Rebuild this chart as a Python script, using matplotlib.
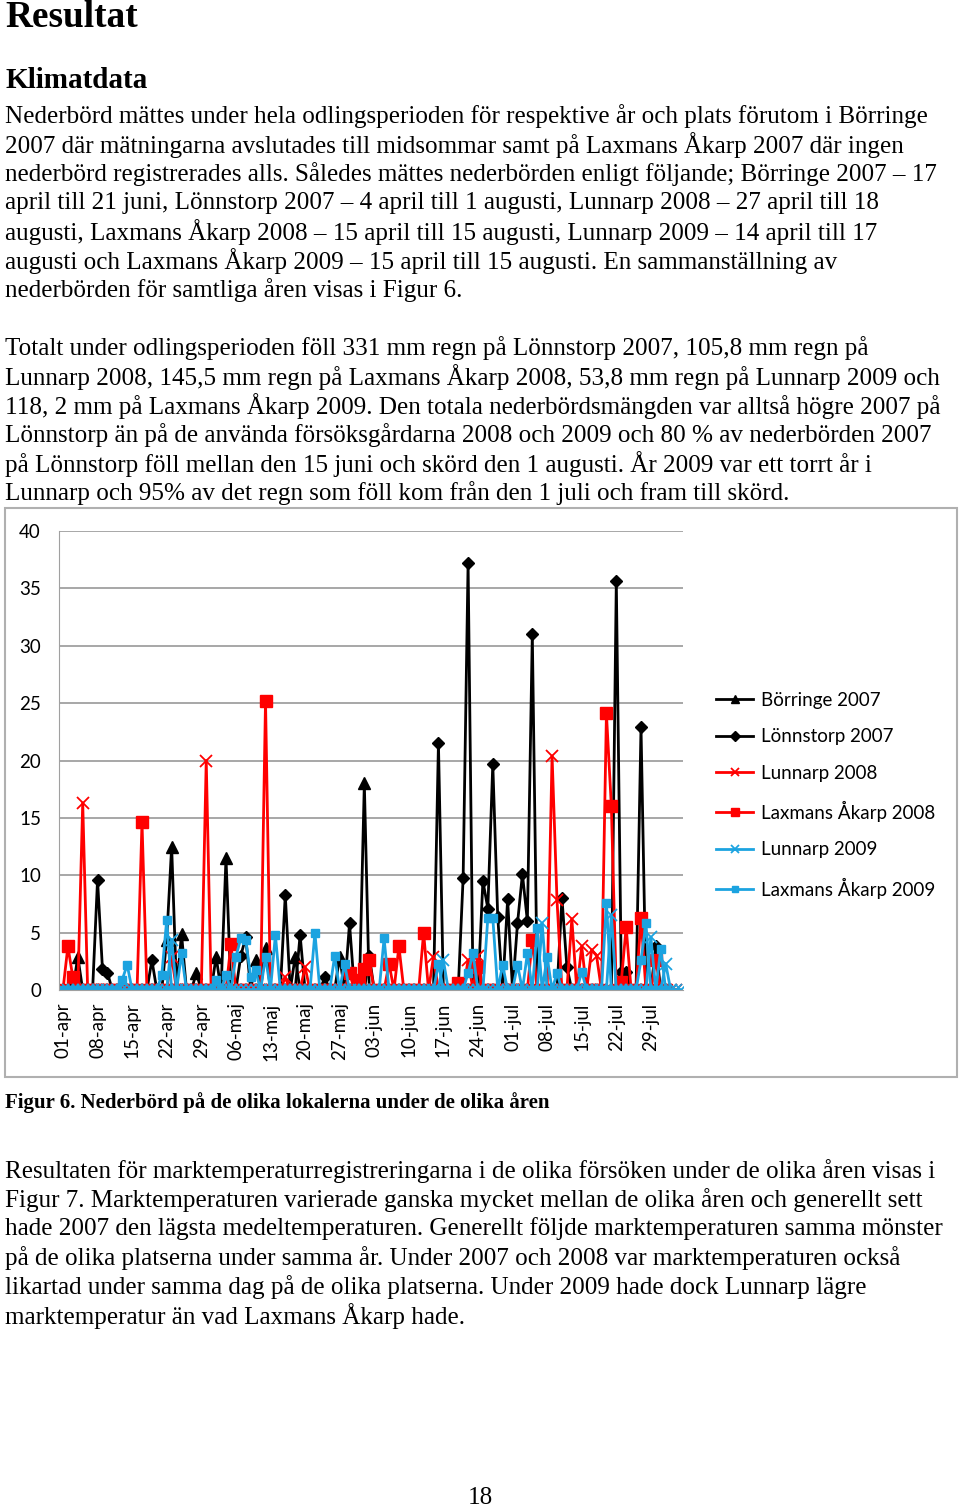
import numpy as np
import matplotlib
matplotlib.use("Agg")
import matplotlib.pyplot as plt
from matplotlib.patches import Rectangle

# ---- chart data: day index from 01-apr, nonzero daily rainfall (mm) ----
tick_days = [0, 7, 14, 21, 28, 35, 42, 49, 56, 63, 70, 77, 84, 91, 98, 105, 112, 119]
tick_labels = ["01-apr", "08-apr", "15-apr", "22-apr", "29-apr", "06-maj", "13-maj",
               "20-maj", "27-maj", "03-jun", "10-jun", "17-jun", "24-jun", "01-jul",
               "08-jul", "15-jul", "22-jul", "29-jul"]

borringe07_days = [3, 21, 22, 24, 27, 31, 33, 39, 41, 47, 56, 61]
borringe07_vals = [2.9, 4.4, 12.5, 4.9, 1.5, 2.9, 11.5, 2.6, 3.7, 2.9, 2.9, 18.0]

lonnstorp07_days = [2, 7, 8, 9, 18, 36, 37, 45, 48, 53, 58, 62, 76, 81, 82, 85, 86, 87,
                    88, 90, 92, 93, 94, 95, 101, 102, 112, 113, 114, 117, 120]
lonnstorp07_vals = [0.8, 9.6, 1.8, 1.5, 2.6, 3.0, 4.6, 8.3, 4.8, 1.1, 5.8, 3.0, 21.5, 9.8,
                    37.2, 9.5, 7.1, 19.7, 6.4, 7.9, 5.8, 10.1, 6.0, 31.0, 8.0, 2.0, 35.6,
                    1.6, 1.6, 22.9, 3.8]

lunnarp08_days = [4, 22, 29, 45, 49, 75, 82, 84, 99, 100, 103, 105, 107, 108]
lunnarp08_vals = [16.3, 2.9, 20.0, 1.1, 2.0, 2.9, 2.6, 3.0, 20.4, 7.8, 6.2, 3.8, 3.5, 3.0]

laxmans08_days = [1, 2, 16, 34, 41, 58, 60, 61, 62, 66, 68, 73, 80, 84, 95, 110, 111,
                  113, 114, 117, 120]
laxmans08_vals = [3.8, 1.1, 14.6, 4.0, 25.2, 1.5, 0.9, 1.8, 2.6, 2.3, 3.8, 5.0, 0.6, 2.0,
                  4.4, 24.1, 16.0, 0.7, 5.5, 6.3, 2.6]

lunnarp09_days = [22, 77, 97, 111, 119, 122]
lunnarp09_vals = [4.4, 2.6, 5.8, 6.5, 4.6, 2.3]

laxmans09_days = [12, 13, 20, 21, 24, 31, 33, 35, 36, 37, 38, 39, 41, 43, 51, 55, 57, 65,
                  76, 82, 83, 86, 87, 89, 92, 94, 96, 98, 100, 105, 110, 117, 118, 121]
laxmans09_vals = [0.9, 2.2, 1.3, 6.1, 3.2, 0.9, 1.3, 2.9, 4.5, 4.4, 1.1, 1.7, 2.9, 4.8,
                  5.0, 3.0, 2.3, 4.5, 2.3, 1.5, 3.2, 6.3, 6.3, 2.2, 2.2, 3.2, 5.4, 2.9,
                  1.5, 1.6, 7.6, 2.6, 5.8, 3.6]

series = [
    ("Börringe 2007", borringe07_days, borringe07_vals, 81, "black", "^", 8),
    ("Lönnstorp 2007", lonnstorp07_days, lonnstorp07_vals, 122, "black", "D", 6),
    ("Lunnarp 2008", lunnarp08_days, lunnarp08_vals, 124, "#ff0000", "x", 8),
    ("Laxmans Åkarp 2008", laxmans08_days, laxmans08_vals, 122, "#ff0000", "s", 8),
    ("Lunnarp 2009", lunnarp09_days, lunnarp09_vals, 125, "#1ca3e0", "x", 8),
    ("Laxmans Åkarp 2009", laxmans09_days, laxmans09_vals, 122, "#1ca3e0", "s", 6),
]

# ---- page text ----
para1 = [
    "Nederbörd mättes under hela odlingsperioden för respektive år och plats förutom i Börringe",
    "2007 där mätningarna avslutades till midsommar samt på Laxmans Åkarp 2007 där ingen",
    "nederbörd registrerades alls. Således mättes nederbörden enligt följande; Börringe 2007 – 17",
    "april till 21 juni, Lönnstorp 2007 – 4 april till 1 augusti, Lunnarp 2008 – 27 april till 18",
    "augusti, Laxmans Åkarp 2008 – 15 april till 15 augusti, Lunnarp 2009 – 14 april till 17",
    "augusti och Laxmans Åkarp 2009 – 15 april till 15 augusti. En sammanställning av",
    "nederbörden för samtliga åren visas i Figur 6.",
]
para2 = [
    "Totalt under odlingsperioden föll 331 mm regn på Lönnstorp 2007, 105,8 mm regn på",
    "Lunnarp 2008, 145,5 mm regn på Laxmans Åkarp 2008, 53,8 mm regn på Lunnarp 2009 och",
    "118, 2 mm på Laxmans Åkarp 2009. Den totala nederbördsmängden var alltså högre 2007 på",
    "Lönnstorp än på de använda försöksgårdarna 2008 och 2009 och 80 % av nederbörden 2007",
    "på Lönnstorp föll mellan den 15 juni och skörd den 1 augusti. År 2009 var ett torrt år i",
    "Lunnarp och 95% av det regn som föll kom från den 1 juli och fram till skörd.",
]
para3 = [
    "Resultaten för marktemperaturregistreringarna i de olika försöken under de olika åren visas i",
    "Figur 7. Marktemperaturen varierade ganska mycket mellan de olika åren och generellt sett",
    "hade 2007 den lägsta medeltemperaturen. Generellt följde marktemperaturen samma mönster",
    "på de olika platserna under samma år. Under 2007 och 2008 var marktemperaturen också",
    "likartad under samma dag på de olika platserna. Under 2009 hade dock Lunnarp lägre",
    "marktemperatur än vad Laxmans Åkarp hade.",
]

W, H = 960, 1509
fig = plt.figure(figsize=(W / 100, H / 100), dpi=100)


def fx(px):
    return px / W


def fy(py):
    return 1 - py / H


serif = "Liberation Serif"
chart_font = "Lato"
body_size = 18.1

fig.text(fx(5), fy(27), "Resultat", fontsize=26.8, fontweight="bold", family=serif, va="baseline")
fig.text(fx(5), fy(88), "Klimatdata", fontsize=21, fontweight="bold", family=serif, va="baseline")
for i, line in enumerate(para1):
    fig.text(fx(5), fy(116 + 29 * i), line, fontsize=body_size, family=serif, va="center")
for i, line in enumerate(para2):
    fig.text(fx(5), fy(348 + 29 * i), line, fontsize=body_size, family=serif, va="center")
fig.text(fx(5), fy(1103), "Figur 6. Nederbörd på de olika lokalerna under de olika åren",
         fontsize=15, fontweight="bold", family=serif, va="center")
for i, line in enumerate(para3):
    fig.text(fx(5), fy(1171 + 29 * i), line, fontsize=body_size, family=serif, va="center")
fig.text(fx(480), fy(1498), "18", fontsize=body_size, family=serif, va="center", ha="center")

# chart frame
fig.patches.append(Rectangle((fx(5), fy(1077)), fx(952), 569 / H, transform=fig.transFigure,
                             fill=False, edgecolor="#b0b0b0", lw=1.5))

ax = fig.add_axes([fx(59), fy(990), fx(683 - 59), (990 - 531) / H])
for name, days, vals, last, color, marker, ms in series:
    x = np.arange(last + 1)
    y = np.zeros(last + 1)
    y[days] = vals
    if marker == "x":
        ax.plot(x, y, color=color, lw=2, marker=marker, ms=ms, mew=1.3, label=name)
    else:
        ax.plot(x, y, color=color, lw=2, marker=marker, ms=ms, label=name)

ax.set_xlim(-0.8, 125.5)
ax.set_ylim(0, 40)
ax.set_yticks(range(0, 41, 5))
ax.set_xticks(tick_days)
ax.set_xticklabels(tick_labels, rotation=90, fontsize=13.5, family=chart_font)
ax.set_yticklabels([str(v) for v in range(0, 41, 5)], fontsize=13.5, family=chart_font)
ax.tick_params(axis="both", length=0)
ax.tick_params(axis="y", pad=13)
ax.tick_params(axis="x", pad=9)
ax.grid(axis="y", color="#a0a0a0", lw=1.3)
ax.set_axisbelow(True)
for s in ["top", "right"]:
    ax.spines[s].set_visible(False)
ax.spines["left"].set_color("#a0a0a0")
ax.spines["bottom"].set_color("#a0a0a0")

ax.legend(loc="upper left", bbox_to_anchor=(fx(699), fy(675)), bbox_transform=fig.transFigure,
          frameon=False, prop={"family": chart_font, "size": 13.5}, handlelength=2.0,
          handletextpad=0.4, labelspacing=1.03, markerscale=0.8)

fig.savefig("out.png", dpi=100)
